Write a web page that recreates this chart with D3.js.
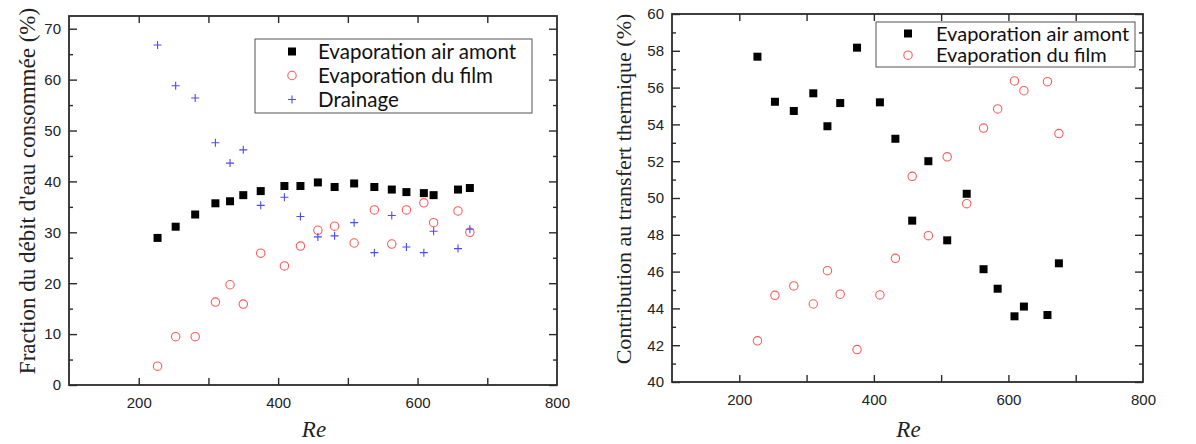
<!DOCTYPE html>
<html><head><meta charset="utf-8">
<script src="https://cdn.jsdelivr.net/npm/d3@7"></script>
<style>body{margin:0;background:#fff}svg{display:block}</style>
</head><body>
<svg id="c" width="1196" height="444"></svg>
<script>
const re = [227, 253, 281, 310, 331, 350, 375, 409, 432, 457, 481, 509, 538, 563, 584, 609, 623, 658, 675];
// Left panel: fraction of consumed water flow (%)
const fracAir   = [28.9, 31.1, 33.5, 35.7, 36.1, 37.3, 38.1, 39.1, 39.1, 39.8, 38.9, 39.6, 38.9, 38.4, 37.9, 37.7, 37.3, 38.4, 38.7];
const fracFilm  = [3.7, 9.5, 9.5, 16.3, 19.7, 15.9, 25.9, 23.4, 27.3, 30.4, 31.2, 27.9, 34.4, 27.7, 34.4, 35.8, 31.9, 34.2, 30.0];
const fracDrain = [66.8, 58.8, 56.4, 47.6, 43.6, 46.2, 35.3, 36.9, 33.1, 29.1, 29.3, 31.9, 26.0, 33.3, 27.1, 26.0, 30.2, 26.8, 30.6];
// Right panel: contribution to heat transfer (%)
const contAir  = [57.68, 55.23, 54.73, 55.69, 53.9, 55.16, 58.17, 55.2, 53.22, 48.77, 52.0, 47.7, 50.23, 46.13, 45.07, 43.57, 44.1, 43.64, 46.45];
const contFilm = [42.24, 44.71, 45.22, 44.24, 46.05, 44.77, 41.76, 44.73, 46.72, 51.18, 47.95, 52.24, 49.69, 53.8, 54.84, 56.36, 55.83, 56.32, 53.5];

const xTicks = [200, 400, 600, 800];
const leftYTicks = [0, 10, 20, 30, 40, 50, 60, 70];
const rightYTicks = [40, 42, 44, 46, 48, 50, 52, 54, 56, 58, 60];
const seriesNames = ["Evaporation air amont", "Evaporation du film", "Drainage"];

const svg = d3.select("#c");
const FRAME = "#2b2b2b", TXT = "#222";
const RED = "#ff5a5a", BLUE = "#4a4aff";
const SERIF = "'Liberation Serif', 'Times New Roman', serif";
const SANS = "'Liberation Sans', Arial, sans-serif";

function marker(g, type, x, y) {
  if (type === "sq") {
    g.append("rect").attr("x", x - 4).attr("y", y - 4).attr("width", 8).attr("height", 8).attr("fill", "#000");
  } else if (type === "ci") {
    g.append("circle").attr("cx", x).attr("cy", y).attr("r", 4.2).attr("fill", "none").attr("stroke", RED).attr("stroke-width", 1.1);
  } else {
    g.append("path").attr("d", `M${x-4},${y}H${x+4}M${x},${y-4}V${y+4}`).attr("stroke", BLUE).attr("stroke-width", 1.1).attr("fill", "none");
  }
}

function panel(o) {
  const x = d3.scaleLinear().domain([100, 800]).range([o.l, o.r]);
  const y = d3.scaleLinear().domain(o.yDom).range([o.b, o.t]);
  const g = svg.append("g");
  const W = o.r - o.l, H = o.b - o.t;

  const xt = d3.range(200, 800, 100);
  g.append("g").attr("transform", `translate(0,${o.b})`).call(d3.axisBottom(x).tickValues(xt).tickSize(-7).tickFormat(""));
  g.append("g").attr("transform", `translate(0,${o.t})`).call(d3.axisTop(x).tickValues(xt).tickSize(-7).tickFormat(""));
  g.append("g").attr("transform", `translate(0,${o.b})`)
    .call(d3.axisBottom(x).tickValues(xTicks).tickSize(0).tickPadding(12))
    .call(s => s.select(".domain").remove())
    .selectAll("text").attr("font-family", SANS).attr("font-size", 15).attr("fill", TXT);

  const yMaj = o.yTicks;
  const yMin = d3.range(o.yDom[0], o.yDom[1] + 1e-9, o.minorStep).filter(v => !yMaj.some(m => Math.abs(m - v) < 1e-9));
  g.append("g").attr("transform", `translate(${o.l},0)`).call(d3.axisLeft(y).tickValues(yMaj).tickSize(-8).tickFormat(""));
  g.append("g").attr("transform", `translate(${o.l},0)`).call(d3.axisLeft(y).tickValues(yMin).tickSize(-4).tickFormat(""));
  g.append("g").attr("transform", `translate(${o.r},0)`).call(d3.axisRight(y).tickValues(yMaj).tickSize(-8).tickFormat(""));
  g.append("g").attr("transform", `translate(${o.r},0)`).call(d3.axisRight(y).tickValues(yMin).tickSize(-4).tickFormat(""));
  g.append("g").attr("transform", `translate(${o.l},0)`)
    .call(d3.axisLeft(y).tickValues(yMaj).tickSize(0).tickPadding(8))
    .call(s => s.select(".domain").remove())
    .selectAll("text").attr("font-family", SANS).attr("font-size", 15).attr("fill", TXT);

  g.selectAll(".domain").remove();
  g.selectAll(".tick line").attr("stroke", FRAME).attr("stroke-width", 1.4);

  g.append("rect").attr("x", o.l).attr("y", o.t).attr("width", W).attr("height", H)
    .attr("fill", "none").attr("stroke", FRAME).attr("stroke-width", 1.8);

  o.series.forEach(s => {
    re.forEach((r, i) => marker(g, s.type, x(r), y(s.values[i])));
  });

  const lg = g.append("g");
  lg.append("rect").attr("x", o.leg.x).attr("y", o.leg.y).attr("width", o.leg.w).attr("height", o.leg.h)
    .attr("fill", "#fff").attr("stroke", "#555").attr("stroke-width", 1);
  o.series.forEach((s, i) => {
    const cy = o.leg.y + o.leg.first + i * o.leg.step;
    marker(lg, s.type, o.leg.mx, cy);
    lg.append("text").attr("x", o.leg.tx).attr("y", cy).attr("dy", "0.36em")
      .attr("font-family", "Lato, 'Open Sans', sans-serif").attr("font-size", o.leg.fs).attr("fill", "#111")
      .text(s.name);
  });

  g.append("text").attr("x", (o.l + o.r) / 2 + 1).attr("y", 437).attr("text-anchor", "middle")
    .attr("font-family", SERIF).attr("font-style", "italic")
    .attr("font-size", 23).attr("fill", TXT).text("Re");
  g.append("text").attr("transform", `translate(${o.ylx},${o.yly}) rotate(-90)`).attr("text-anchor", "middle")
    .attr("dy", "0.35em")
    .attr("font-family", SERIF).attr("font-size", o.ylfs).attr("fill", TXT)
    .text(o.ylabel);
}

panel({
  l: 69, r: 557, t: 16, b: 385, yDom: [0, 72.5], yTicks: leftYTicks, minorStep: 5,
  series: [
    {name: seriesNames[0], type: "sq", values: fracAir},
    {name: seriesNames[1], type: "ci", values: fracFilm},
    {name: seriesNames[2], type: "pl", values: fracDrain}
  ],
  leg: {x: 255, y: 39, w: 277, h: 74, first: 12.5, step: 24, mx: 292, tx: 318, fs: 20.5},
  ylabel: "Fraction du débit d'eau consommée (%)", ylx: 27, yly: 191, ylfs: 23
});

panel({
  l: 672, r: 1143, t: 14, b: 382, yDom: [40, 60], yTicks: rightYTicks, minorStep: 1,
  series: [
    {name: seriesNames[0], type: "sq", values: contAir},
    {name: seriesNames[1], type: "ci", values: contFilm}
  ],
  leg: {x: 876, y: 22, w: 259, h: 45, first: 11.5, step: 21.7, mx: 908, tx: 936, fs: 20},
  ylabel: "Contribution au transfert thermique (%)", ylx: 623, yly: 189, ylfs: 22
});
</script>
</body></html>
